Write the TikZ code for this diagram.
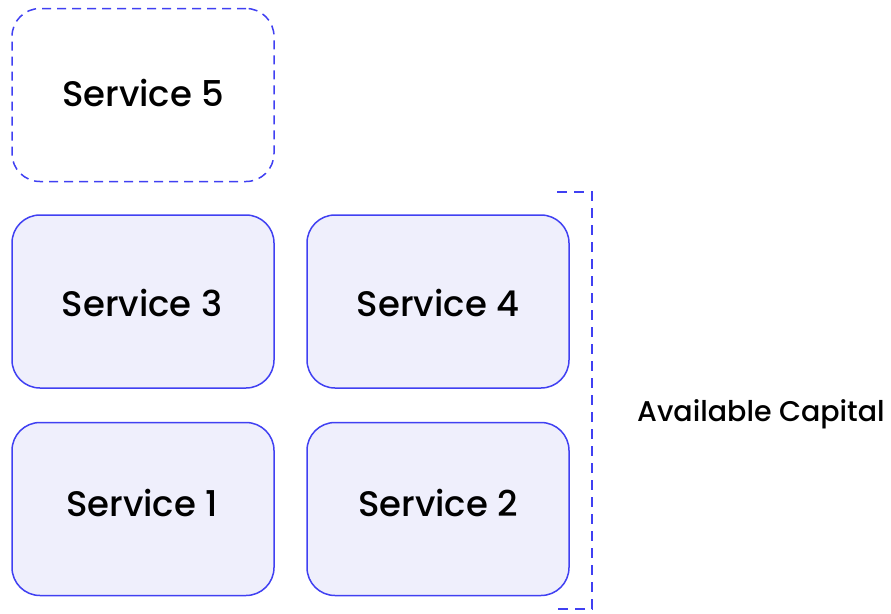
\documentclass[tikz,border=0pt]{standalone}
\usepackage{fontspec}
\setmainfont{Poppins}[UprightFont={* Medium}]
\definecolor{edge}{HTML}{4040F2}
\definecolor{tint}{HTML}{EFEFFC}
\begin{document}
\begin{tikzpicture}[x=1pt,y=-1pt,
  svc/.style={draw=edge,line width=1.5pt,rounded corners=28pt,fill=tint,
    minimum width=262pt,minimum height=173pt,inner sep=0pt},
  ghost/.style={svc,fill=none,dash pattern=on 9pt off 6pt},
  lbl/.style={anchor=base,inner sep=0pt,font=\fontsize{35.5}{40}\selectfont},
  brk/.style={draw=edge,line width=1.7pt,dash pattern=on 10pt off 7pt}]
\useasboundingbox (0,0) rectangle (891,613);
% service boxes
\node[ghost] (s5) at (143,95) {};
\node[svc] (s3) at (143,301.5) {};
\node[svc] (s4) at (438,301.5) {};
\node[svc] (s1) at (143,509) {};
\node[svc] (s2) at (438,509) {};
% captions on their baselines
\node[lbl] (t5) at (143,106) {Service 5};
\node[lbl] (t3) at (142,316.7) {Service 3};
\node[lbl] (t4) at (438,316.7) {Service 4};
\node[lbl] (t1) at (142,516.3) {Service 1};
\node[lbl] (t2) at (438,516.3) {Service 2};
% bracket spanning services 1-4
\coordinate (bt) at (557,192);
\coordinate (bb) at (557,609);
\draw[brk] (bt) -- (592,192) -- (592,609) -- (bb);
\node[anchor=base west,inner sep=0pt,font=\fontsize{28.5}{32}\selectfont] (cap) at (637,421.7) {Available Capital};
\end{tikzpicture}
\end{document}
